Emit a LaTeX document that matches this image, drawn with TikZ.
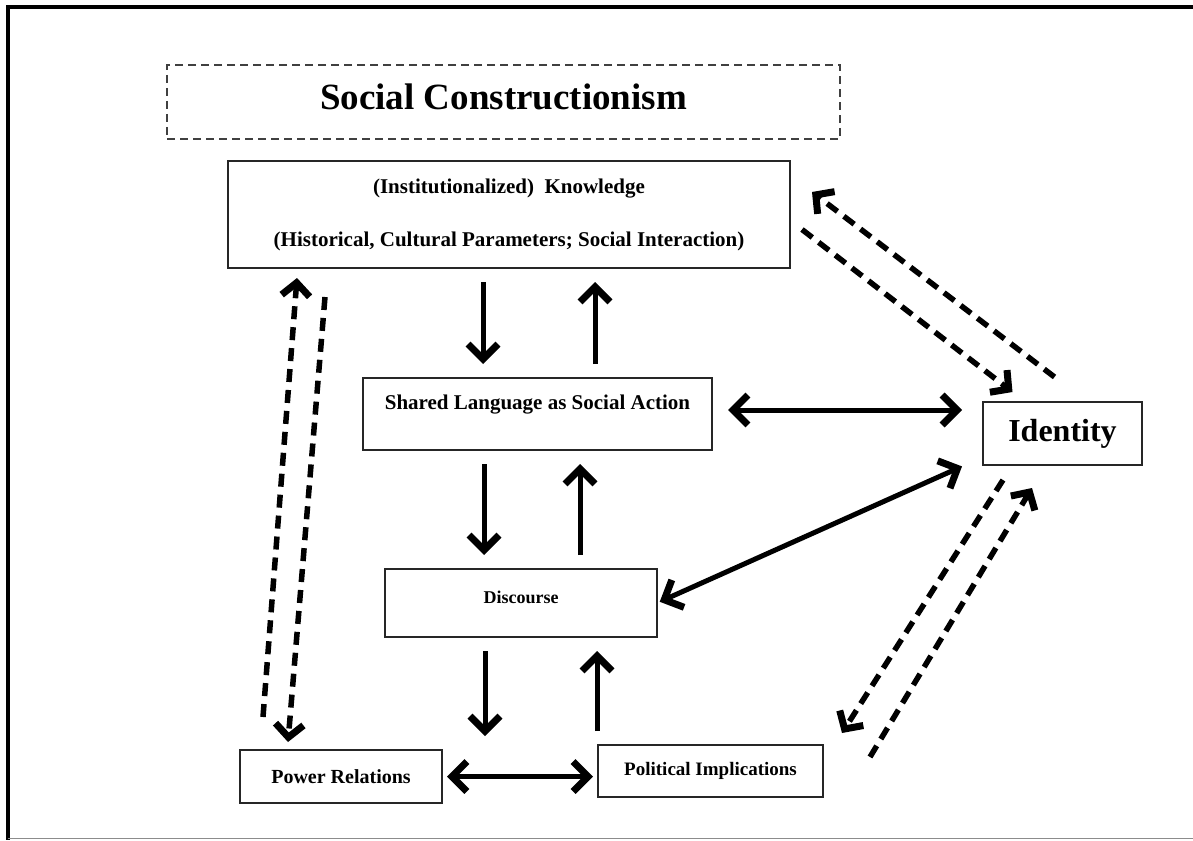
\documentclass[tikz,border=0pt]{standalone}
\usepackage{fontspec}
\setmainfont{Liberation Serif}
\usetikzlibrary{arrows.meta}

\begin{document}
\begin{tikzpicture}[x=1pt,y=-1pt,>={Straight Barb[length=15pt,width=30pt,line width=7pt]}]
				\tikzstyle{every node}=[inner sep=0pt,outer sep=0pt,font=\bfseries]
				\tikzstyle{box}=[draw=black!85,line width=1.4pt,anchor=north west,align=center]
				\tikzstyle{arr}=[line width=5pt,shorten <=14pt,shorten >=14pt]
				\tikzstyle{darr}=[line width=5.5pt,dash pattern=on 13pt off 8pt,
				>={Straight Barb[length=13pt,width=28pt,line width=7pt]}]
				\useasboundingbox (0,0) rectangle (1193,840);
				\draw[line width=4pt] (1193,7) -- (7.5,7) -- (7.5,840);
				\draw[black!45,line width=1.5pt] (7.5,838.5) -- (1193,838.5);
				\node[box,draw=black!75,dash pattern=on 8pt off 5pt,minimum width=673pt,
				text height=45pt,text depth=29pt,font=\bfseries\fontsize{37}{40}\selectfont]
				(title) at (167,65) {Social Constructionism};
				\node[box,minimum width=562pt,minimum height=107pt,font=\bfseries\fontsize{21}{53}\selectfont]
				(know) at (228,161) {(Institutionalized)\ \ Knowledge\\(Historical, Cultural Parameters; Social Interaction)};
				\node[box,minimum width=349pt,text height=31pt,text depth=41pt,font=\bfseries\fontsize{21}{24}\selectfont]
				(shared) at (363,378) {Shared Language as Social Action};
				\node[box,minimum width=159pt,minimum height=63pt,font=\bfseries\fontsize{32}{34}\selectfont]
				(identity) at (983,402) {Identity};
				\node[box,minimum width=272pt,text height=34pt,text depth=34pt,font=\bfseries\fontsize{18}{20}\selectfont]
				(disc) at (385,569) {Discourse};
				\node[box,minimum width=202pt,minimum height=53pt,font=\bfseries\fontsize{20}{22}\selectfont]
				(power) at (240,750) {Power Relations};
				\node[box,minimum width=225pt,minimum height=52pt,font=\bfseries\fontsize{19}{22}\selectfont]
				(polit) at (598,745) {Political Implications};
				\draw[arr,->] ([xshift=-26pt]know.south) -- ([xshift=-54.5pt]shared.north);
				\draw[arr,->] ([xshift=57.5pt]shared.north) -- ([xshift=86pt]know.south);
				\draw[arr,->] ([xshift=-53.5pt]shared.south) -- ([xshift=-37pt]disc.north);
				\draw[arr,->] ([xshift=59pt]disc.north) -- ([xshift=42.5pt]shared.south);
				\draw[arr,->] ([xshift=-36pt]disc.south) -- ([xshift=144pt]power.north);
				\draw[arr,->] ([xshift=-113.5pt]polit.north) -- ([xshift=76pt]disc.south);
				\draw[arr,<->,shorten <=5pt,shorten >=5pt] (power.east) -- (power.east -| polit.west);
				\draw[arr,<->,shorten <=16pt,shorten >=21pt] ([yshift=4pt]shared.east) -- ([yshift=4pt]shared.east -| identity.west);
				\draw[arr,<->,shorten <=3pt,shorten >=23pt] (disc.east) -- ([yshift=8pt]identity.south west);
				\draw[darr,->] ([xshift=-8pt,yshift=25pt]identity.north) -- ([xshift=22pt,yshift=-31pt]know.north east);
				\draw[darr,->] ([xshift=12pt,yshift=-15pt]know.east) -- ([xshift=-50pt,yshift=10pt]identity.north);
				\draw[darr,->] ([xshift=-78pt,yshift=33pt]power.north) -- ([xshift=-212pt,yshift=-10pt]know.south);
				\draw[darr,->] ([xshift=-184pt,yshift=-29pt]know.south) -- ([xshift=-53pt,yshift=8pt]power.north);
				\draw[darr,->] ([xshift=-59.5pt,yshift=-15pt]identity.south) -- ([xshift=19pt,yshift=12pt]polit.north east);
				\draw[darr,->] ([xshift=47pt,yshift=14pt]polit.east) -- ([xshift=-30.5pt,yshift=-23pt]identity.south);
\end{tikzpicture}
\end{document}
